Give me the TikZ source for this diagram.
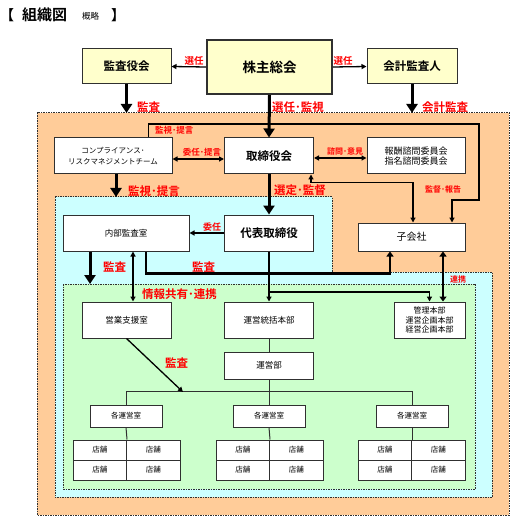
\documentclass[tikz,border=0pt]{standalone}
\usepackage{fontspec}
\setmainfont{Noto Sans CJK JP}[BoldFont={Noto Sans CJK JP Bold}]
\usetikzlibrary{arrows.meta}
\definecolor{cyel}{HTML}{FFFFCC}
\definecolor{cora}{HTML}{FFCC99}
\definecolor{ccya}{HTML}{CCFFFF}
\definecolor{cgre}{HTML}{CCFFCC}
\definecolor{cred}{HTML}{FF0000}
\definecolor{cbord}{HTML}{303030}
\newcommand{\fs}[2]{\fontsize{#1}{#2}\selectfont}
\tikzset{
  box/.style={draw=cbord, line width=1pt, fill=white, inner sep=0pt, align=center, font=\fs{8}{10}},
  ybox/.style={box, fill=cyel, font=\bfseries\fs{11.5}{12}},
  region/.style={draw=cbord, line width=1pt, dash pattern=on 1.5pt off 1pt},
  tarr/.style={line width=3pt, -{Triangle[width=11pt,length=9pt]}},
  tharr/.style={line width=1.3pt, -{Triangle[width=5pt,length=5pt]}},
  dharr/.style={line width=1.3pt, {Triangle[width=5pt,length=5pt]}-{Triangle[width=5pt,length=5pt]}},
  dtarr/.style={line width=2.5pt, {Triangle[width=7pt,length=5pt]}-{Triangle[width=7pt,length=5pt]}},
  plain/.style={line width=1pt, draw=cbord},
  lab/.style={text=cred, inner sep=0pt, font=\bfseries\fs{11.5}{12}},
  slab/.style={text=cred, inner sep=0pt, font=\bfseries\fs{8.5}{9}},
  cell/.style={box, minimum width=53.5pt, minimum height=20pt, font=\fs{7.5}{9}},
}
\begin{document}
\begin{tikzpicture}[x=1pt,y=-1pt]
\useasboundingbox (0,0) rectangle (514,521);
% title
\node[anchor=west, inner sep=0pt, font=\bfseries\fs{14}{14}] (tb1) at (0,15) {【};
\node[anchor=west, inner sep=0pt, font=\bfseries\fs{15}{15}] (tt) at (22,15) {組織図};
\node[anchor=west, inner sep=0pt, font=\fs{8.5}{9}] (ts) at (82,16) {概略};
\node[anchor=west, inner sep=0pt, font=\bfseries\fs{14}{14}] (tb2) at (111,15) {】};
% regions
\path[region, fill=cora] (37,113) rectangle (509,515);
\path[region, fill=ccya] (55,197) -- (332,197) -- (332,272) -- (492,272) -- (492,497) -- (55,497) -- cycle;
\path[region, fill=cgre] (63,284) rectangle (475,489);
\coordinate (otop) at (0,113);
\coordinate (ctop) at (0,197);
\coordinate (gtop) at (0,284);
% top boxes
\node[ybox, line width=2pt, minimum width=125pt, minimum height=54pt, font=\bfseries\fs{13.5}{14}] (kabu) at (269.5,67) {株主総会};
\node[ybox, minimum width=89pt, minimum height=35pt] (kansa) at (126.5,66.5) {監査役会};
\node[ybox, minimum width=90pt, minimum height=35pt] (kaikei) at (412,66.5) {会計監査人};
% level 2
\node[box, minimum width=118pt, minimum height=36pt, font=\fs{7.5}{11}] (comp) at (113,156) {コンプライアンス･\\リスクマネジメントチーム};
\node[box, minimum width=89pt, minimum height=36pt, font=\bfseries\fs{11.5}{12}] (tori) at (269,156) {取締役会};
\node[box, minimum width=98pt, minimum height=36pt, font=\fs{9}{10.5}] (hoshu) at (416,156) {報酬諮問委員会\\指名諮問委員会};
% level 3
\node[box, minimum width=89pt, minimum height=36pt, font=\bfseries\fs{11.5}{12}] (daihyo) at (269,233) {代表取締役};
\node[box, minimum width=126pt, minimum height=36pt, font=\fs{8.5}{10}] (naibu) at (126,233) {内部監査室};
\node[box, minimum width=107pt, minimum height=28pt, font=\fs{10}{11}] (kogai) at (411.5,237) {子会社};
% level 4
\node[box, minimum width=89pt, minimum height=36pt, font=\fs{8.5}{10}] (eigyo) at (126.5,320) {営業支援室};
\node[box, minimum width=89pt, minimum height=36pt, font=\fs{8.5}{10}] (ut) at (269,320) {運営統括本部};
\node[box, minimum width=71pt, minimum height=36pt, font=\fs{8}{9.5}] (kanri) at (429.5,320) {管理本部\\運営企画本部\\経営企画本部};
\node[box, minimum width=89pt, minimum height=27pt, font=\fs{8.5}{10}] (uneibu) at (269,365.5) {運営部};
% operating rooms
\node[box, minimum width=72pt, minimum height=22pt, font=\fs{7.5}{9}] (kaku1) at (126,416) {各運営室};
\node[box, minimum width=72pt, minimum height=22pt, font=\fs{7.5}{9}] (kaku2) at (269,416) {各運営室};
\node[box, minimum width=72pt, minimum height=22pt, font=\fs{7.5}{9}] (kaku3) at (412,416) {各運営室};
% stores
\foreach \g/\cx in {1/126.5, 2/269.5, 3/411.5} {
  \node[cell] (s\g a) at (\cx-26.75,450) {店舗};
  \node[cell] (s\g b) at (\cx+26.75,450) {店舗};
  \node[cell] (s\g c) at (\cx-26.75,470) {店舗};
  \node[cell] (s\g d) at (\cx+26.75,470) {店舗};
}
% connectors
\draw[tharr] (kabu.west) -- (kansa.east);
\draw[tharr] (kabu.east) -- (kaikei.west);
\draw[tarr] (kansa.south) -- (kansa.south |- otop);
\draw[tarr] (kaikei.south) -- (kaikei.south |- otop);
\draw[tarr] (kabu.south) -- (tori.north);
\draw[tharr] ([xshift=-24pt]comp.north east) |- (479,124) -- (479,200) -| ([xshift=-13.5pt]kogai.north east);
\draw[dharr] ([yshift=-3pt]comp.east) -- ([yshift=-3pt]tori.west);
\draw[dharr] ([yshift=-2pt]tori.east) -- ([yshift=-2pt]hoshu.west);
\draw[tarr] ([xshift=3pt]comp.south) -- ([xshift=3pt]comp.south |- ctop);
\draw[tarr] (tori.south) -- (daihyo.north);
\draw[dharr] ([xshift=-3pt]tori.south east) -- ++(0,8) -| ([xshift=1.5pt]kogai.north);
\draw[tharr] (daihyo.west) -- (naibu.east);
\draw[tarr] ([xshift=-36pt]naibu.south) -- ([xshift=-36pt]naibu.south |- gtop);
\draw[dharr] ([xshift=7pt]naibu.south) -- ([xshift=7pt]naibu.south |- eigyo.north);
\draw[line width=2.5pt, -{Triangle[width=7pt,length=5pt]}] ([xshift=20pt]naibu.south) -- ++(0,22) -| ([xshift=-21.5pt]kogai.south);
\draw[dtarr] ([xshift=31.5pt]kogai.south) -- ([xshift=31.5pt]kogai.south |- kanri.north);
\draw[tharr] (daihyo.south) -- (ut.north);
\draw[tharr] (daihyo.south |- 0,292) -| (kanri.north);
\draw[plain] (ut.south) -- (uneibu.north);
\draw[plain] (uneibu.south) -- (kaku2.north);
\draw[plain] (kaku1.north) -- ++(0,-13) -| (kaku3.north);
\coordinate (hit) at (183,392);
\draw[tharr] (eigyo.south) -- (hit);
\draw[plain] (kaku1.south) -- (s1a.north east);
\draw[plain] (kaku2.south) -- (s2a.north east);
\draw[plain] (kaku3.south) -- (s3a.north east);
% labels
\node[slab, font=\bfseries\fs{9.5}{10}] (l1) at (194,61) {選任};
\node[slab, font=\bfseries\fs{9.5}{10}] (l2) at (343,61) {選任};
\node[lab, anchor=west] (l3) at (137,107) {監査};
\node[lab, anchor=west] (l4) at (272,107) {選任･監視};
\node[lab, anchor=west] (l5) at (422,107) {会計監査};
\node[slab, anchor=west] (l6) at (155,130) {監視･提言};
\node[slab] (l7) at (202,152) {委任･提言};
\node[slab, font=\bfseries\fs{8}{9}] (l8) at (345,151) {諮問･意見};
\node[lab, anchor=west] (l9) at (128,191) {監視･提言};
\node[lab, anchor=west] (l10) at (274,190) {選定･監督};
\node[slab, font=\bfseries\fs{8}{9}] (l11) at (443,189) {監督･報告};
\node[slab, font=\bfseries\fs{9}{10}] (l12) at (212,227) {委任};
\node[lab, anchor=west] (l13) at (103,267) {監査};
\node[lab, anchor=west] (l14) at (192,267) {監査};
\node[lab, anchor=west] (l15) at (142,294) {情報共有･連携};
\node[slab, font=\bfseries\fs{8}{9}] (l16) at (458,279) {連携};
\node[lab, anchor=west] (l17) at (165,363) {監査};
\end{tikzpicture}
\end{document}
